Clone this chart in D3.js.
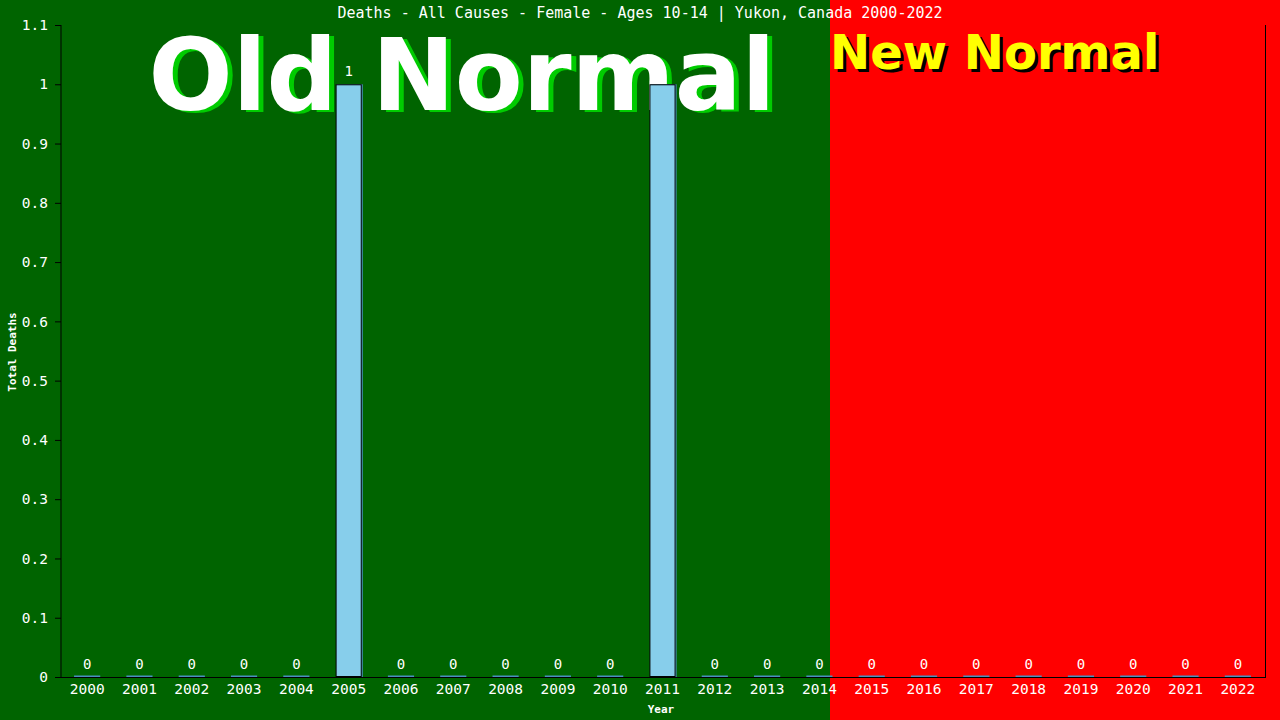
<!DOCTYPE html>
<html><head><meta charset="utf-8">
<script src="https://cdn.jsdelivr.net/npm/d3@7"></script>
<style>html,body{margin:0;padding:0;background:#006400;overflow:hidden}</style>
</head><body>
<svg id="c" width="1280" height="720"></svg>
<script>
const years = ["2000","2001","2002","2003","2004","2005","2006","2007","2008","2009","2010","2011","2012","2013","2014","2015","2016","2017","2018","2019","2020","2021","2022"];
const deaths = [0,0,0,0,0,1,0,0,0,0,0,1,0,0,0,0,0,0,0,0,0,0,0];
const yTicks = [0,0.1,0.2,0.3,0.4,0.5,0.6,0.7,0.8,0.9,1,1.1];
const title = "Deaths - All Causes - Female - Ages 10-14 | Yukon, Canada 2000-2022";

const W = 1280, H = 720;
const m = {l:61, r:16, t:25, b:43};
const mono = "'DejaVu Sans Mono', 'Liberation Mono', monospace";
const svg = d3.select("#c");

const x = d3.scaleBand().domain(years).range([m.l, W - m.r]).paddingInner(0.5).paddingOuter(0.25);
const y = d3.scaleLinear().domain([0, 1.1]).range([H - m.b, m.t]);

const split = 830;
svg.append("rect").attr("x",0).attr("y",0).attr("width",split).attr("height",H).attr("fill","#006400");
svg.append("rect").attr("x",split).attr("y",0).attr("width",W-split).attr("height",H).attr("fill","#ff0000");

// Old Normal
const old = svg.append("g").attr("font-family","'DejaVu Sans', Verdana, sans-serif").attr("font-weight","bold").attr("font-size",99).attr("text-anchor","middle");
old.append("text").attr("x",462+5).attr("y",110+2).attr("fill","#00cc00").text("Old Normal");
old.append("text").attr("x",462).attr("y",110).attr("fill","#ffffff").text("Old Normal");
const nw = svg.append("g").attr("font-family","'DejaVu Sans', Verdana, sans-serif").attr("font-weight","bold").attr("font-size",48);
nw.append("text").attr("x",830+3).attr("y",69+3).attr("fill","#000").text("New Normal");
nw.append("text").attr("x",830).attr("y",69).attr("fill","#ffff00").text("New Normal");

// bars
const bars = svg.append("g");
years.forEach((yr,i)=>{
  const v = deaths[i];
  const bx = x(yr), bw = x.bandwidth();
  const top = y(v), h = y(0) - y(v);
  if (v > 0) {
    bars.append("rect").attr("x",bx+1).attr("y",top).attr("width",bw).attr("height",h).attr("fill","#4a8fc0");
    bars.append("rect").attr("x",bx+0.5).attr("y",top+0.5).attr("width",bw-1).attr("height",h-1)
      .attr("fill","#87ceeb").attr("stroke","#000").attr("stroke-width",1);
  } else {
    bars.append("rect").attr("x",bx).attr("y",y(0)-1.5).attr("width",bw).attr("height",1.5).attr("fill","#4a8fc0");
  }
  svg.append("text").attr("x",bx+bw/2).attr("y",top-8).attr("text-anchor","middle")
    .attr("font-family",mono).attr("font-size",14).attr("fill","#fff").text(v);
});

// axes
const yAxis = svg.append("g").attr("transform",`translate(${m.l},0)`)
  .call(d3.axisLeft(y).tickValues(yTicks).tickSize(6).tickPadding(7).tickFormat(d=>d3.format("~g")(d)));
yAxis.select(".domain").remove();
yAxis.selectAll(".tick line").attr("stroke","#000");
yAxis.selectAll("text").attr("fill","#fff").attr("font-family",mono).attr("font-size",14.5);
svg.append("line").attr("x1",m.l).attr("x2",m.l).attr("y1",m.t).attr("y2",H-m.b).attr("stroke","#000");
svg.append("line").attr("x1",W-m.r+1.5).attr("x2",W-m.r+1.5).attr("y1",m.t).attr("y2",H-m.b).attr("stroke","#000");

const xAxis = svg.append("g").attr("transform",`translate(0,${H-m.b})`)
  .call(d3.axisBottom(x).tickSize(0).tickPadding(7));
xAxis.select(".domain").attr("stroke","#000").attr("d",`M${m.l},0.5H${W-m.r+2}`);
xAxis.selectAll("text").attr("fill","#fff").attr("font-family",mono).attr("font-size",14.5).attr("dy","0.71em");

svg.append("text").attr("x",W/2).attr("y",18).attr("text-anchor","middle").attr("fill","#fff")
  .attr("font-family",mono).attr("font-size",15).text(title);
svg.append("text").attr("x",661).attr("y",713).attr("text-anchor","middle").attr("fill","#fff")
  .attr("font-family",mono).attr("font-weight","bold").attr("font-size",11).text("Year");
svg.append("text").attr("transform","translate(16,352) rotate(-90)").attr("text-anchor","middle").attr("fill","#fff")
  .attr("font-family",mono).attr("font-weight","bold").attr("font-size",11).text("Total Deaths");
</script>
</body></html>
